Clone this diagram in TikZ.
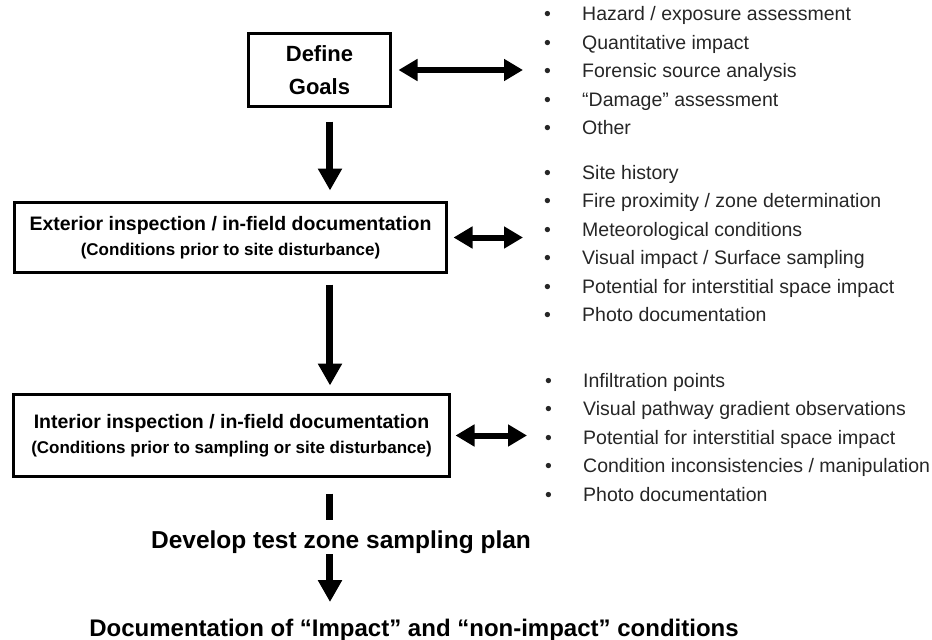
\documentclass[tikz,border=0pt]{standalone}
\usepackage{fontspec}
\setmainfont{Liberation Sans}
\usetikzlibrary{shapes,arrows.meta}
\definecolor{listgray}{RGB}{38,38,38}
\tikzstyle{block} = [rectangle, draw, line width=3pt, inner sep=0pt,
    align=center, font=\bfseries\fontsize{19.5}{25}\selectfont]
\tikzstyle{step title} = [inner sep=0pt, fill=white,
    font=\bfseries\fontsize{24.5}{29}\selectfont]
\tikzstyle{bullets} = [inner sep=0pt, align=left, anchor=west, text=listgray,
    font=\fontsize{19.5}{28.5}\selectfont]
\tikzstyle{line} = [draw, line width=7pt, -{Triangle[width=23pt,length=22pt]}]
\tikzstyle{stem} = [draw, line width=7pt]
\tikzstyle{twoway} = [draw, line width=6pt,
    {Triangle[width=21pt,length=19pt]}-{Triangle[width=21pt,length=19pt]}]
\newcommand{\itm}[1]{\makebox[38pt][l]{\textbullet}#1}
\newcommand{\sub}[1]{{\fontsize{17}{20}\selectfont #1}}

\begin{document}
\begin{tikzpicture}[node distance = 2cm, auto]
        \useasboundingbox (-319.5pt,70pt) rectangle (612.5pt,-570pt);

        % Place nodes
        \node [block, minimum width=142pt, minimum height=73pt,
            font=\bfseries\fontsize{22}{33}\selectfont] (goals) {Define\\Goals};
        \node [block, below of=goals, node distance=167.5pt, xshift=-89pt,
            minimum width=432pt, minimum height=70pt] (ext)
            {Exterior inspection / in-field documentation\\\sub{(Conditions prior to site disturbance)}};
        \node [block, below of=ext, node distance=198pt, xshift=1pt,
            minimum width=436pt, minimum height=82pt] (int)
            {Interior inspection / in-field documentation\\\sub{(Conditions prior to sampling or site disturbance)}};
        \node [step title, below of=int, node distance=106.9pt, xshift=109.5pt] (plan)
            {Develop test zone sampling plan};
        \node [step title, below of=plan, node distance=88pt, xshift=73pt,
            font=\bfseries\fontsize{24}{29}\selectfont] (record)
            {Documentation of “Impact” and “non-impact” conditions};
        \coordinate [right of=goals, node distance=10.5pt] (spine);

        % Lists
        \node [bullets, right of=goals, node distance=224.5pt, anchor=west, yshift=-1pt] (goalslist)
            {\itm{Hazard / exposure assessment}\\
             \itm{Quantitative impact}\\
             \itm{Forensic source analysis}\\
             \itm{“Damage” assessment}\\
             \itm{Other}};
        \node [bullets, right of=ext, node distance=313.5pt, anchor=west, yshift=-6pt] (extlist)
            {\itm{Site history}\\
             \itm{Fire proximity / zone determination}\\
             \itm{Meteorological conditions}\\
             \itm{Visual impact / Surface sampling}\\
             \itm{Potential for interstitial space impact}\\
             \itm{Photo documentation}};
        \node [bullets, right of=int, node distance=313.5pt, anchor=west, yshift=-2pt] (intlist)
            {\itm{Infiltration points}\\
             \itm{Visual pathway gradient observations}\\
             \itm{Potential for interstitial space impact}\\
             \itm{Condition inconsistencies / manipulation}\\
             \itm{Photo documentation}};

        % Draw edges
        \path [line] ([yshift=-13.5pt]goals.south -| spine) -- ([yshift=10.5pt]ext.north -| spine);
        \path [line] ([yshift=-10.5pt]ext.south -| spine) -- ([yshift=7.5pt]int.north -| spine);
        \path [stem] ([yshift=-15.5pt]int.south -| spine) -- ([yshift=10.3pt]plan.north -| spine);
        \path [line] (plan.south -| spine) -- ([yshift=17pt]record.north -| spine);
        \path [twoway] ([xshift=6.5pt]goals.east) -- ([xshift=-21pt]goals.east -| goalslist.west);
        \path [twoway] ([xshift=5.5pt]ext.east) -- ([xshift=-21pt]ext.east -| extlist.west);
        \path [twoway] ([xshift=4.5pt]int.east) -- ([xshift=-18pt]int.east -| intlist.west);

    \end{tikzpicture}
\end{document}
